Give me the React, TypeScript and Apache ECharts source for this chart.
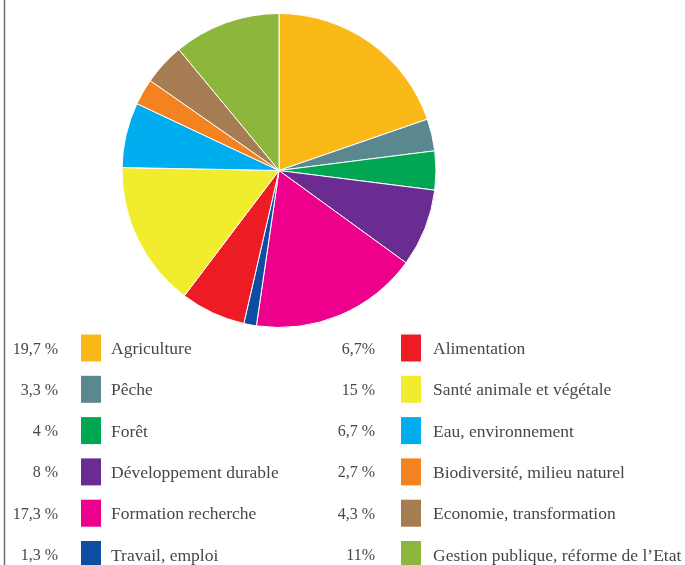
import React, { useEffect, useRef } from "react";
import * as echarts from "echarts";

const categories = [
  "Agriculture",
  "Pêche",
  "Forêt",
  "Développement durable",
  "Formation recherche",
  "Travail, emploi",
  "Alimentation",
  "Santé animale et végétale",
  "Eau, environnement",
  "Biodiversité, milieu naturel",
  "Economie, transformation",
  "Gestion publique, réforme de l’Etat",
];
const values = [19.7, 3.3, 4, 8, 17.3, 1.3, 6.7, 15, 6.7, 2.7, 4.3, 11];
const percentLabels = [
  "19,7 %", "3,3 %", "4 %", "8 %", "17,3 %", "1,3 %",
  "6,7%", "15 %", "6,7 %", "2,7 %", "4,3 %", "11%",
];
const colors = [
  "#FBB917", "#5B878F", "#00A651", "#6B2C91", "#EC008C", "#0D4EA2",
  "#ED1C24", "#F2EC2E", "#00AEEF", "#F58220", "#A67C52", "#8DB63C",
];

const FONT = "'Liberation Serif', serif";

export default function App() {
  const ref = useRef<HTMLDivElement>(null);
  useEffect(() => {
    if (!ref.current) return;
    const chart = echarts.init(ref.current, undefined, { renderer: "svg" });
    const rowsPerCol = 6;
    const legendEls: any[] = [];
    categories.forEach((name, i) => {
      const col = Math.floor(i / rowsPerCol);
      const row = i % rowsPerCol;
      const yc = 348 + row * 41.3;
      const pctRight = col === 0 ? 58 : 375;
      const swX = col === 0 ? 81 : 401;
      const txtX = col === 0 ? 111 : 433;
      legendEls.push({
        type: "text",
        x: pctRight,
        y: yc,
        style: {
          text: percentLabels[i],
          align: "right",
          verticalAlign: "middle",
          font: `16px ${FONT}`,
          fill: "#474747",
        },
      });
      legendEls.push({
        type: "rect",
        shape: { x: swX, y: yc - 13.5, width: 20, height: 27 },
        style: { fill: colors[i] },
      });
      legendEls.push({
        type: "text",
        x: txtX,
        y: yc,
        style: {
          text: name,
          align: "left",
          verticalAlign: "middle",
          font: `17.5px ${FONT}`,
          fill: "#474747",
        },
      });
    });
    chart.setOption({
      animation: false,
      graphic: [
        {
          type: "line",
          shape: { x1: 4.5, y1: 0, x2: 4.5, y2: 565 },
          style: { stroke: "#6E6E78", lineWidth: 1.5 },
        },
        ...legendEls,
      ],
      series: [
        {
          type: "pie",
          center: [279, 170.5],
          radius: [0, 157],
          startAngle: 90,
          clockwise: true,
          label: { show: false },
          labelLine: { show: false },
          emphasis: { disabled: true },
          itemStyle: { borderColor: "#fff", borderWidth: 1 },
          data: categories.map((n, i) => ({
            name: n,
            value: values[i],
            itemStyle: { color: colors[i] },
          })),
        },
      ],
    });
    return () => chart.dispose();
  }, []);
  return (
    <div
      ref={ref}
      style={{ position: "fixed", left: 0, top: 0, width: 685, height: 565 }}
    />
  );
}
